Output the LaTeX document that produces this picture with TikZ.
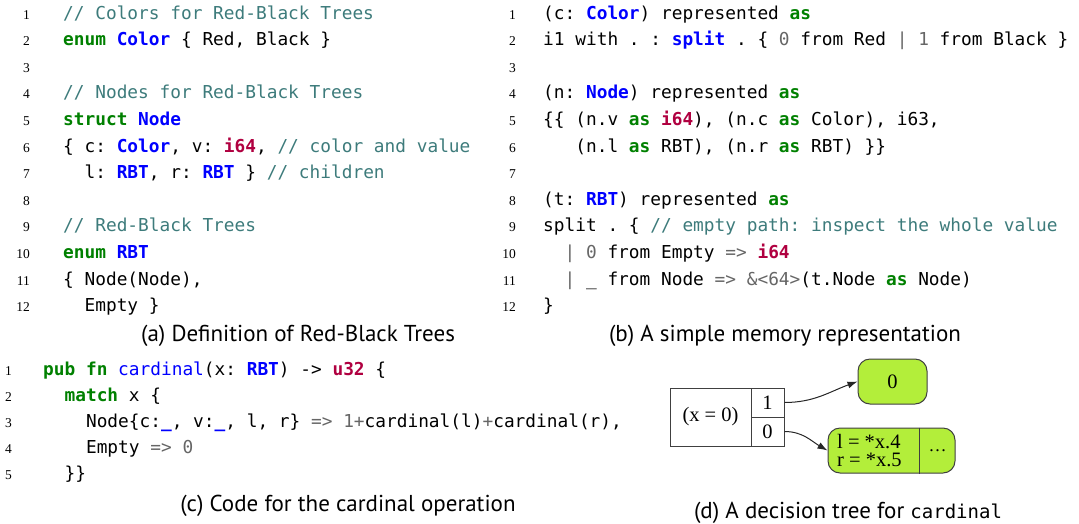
\documentclass[tikz,border=0pt]{standalone}
\usepackage{fontspec}
\setmainfont{Liberation Serif}
\setmonofont{DejaVu Sans Mono}
\newfontfamily\capfont{PT Sans}
\usepackage{tikz}
\usetikzlibrary{arrows.meta}
\definecolor{kwgreen}{HTML}{008000}
\definecolor{tyblue}{HTML}{0000FF}
\definecolor{primred}{HTML}{B00040}
\definecolor{cmteal}{HTML}{3D7B7B}
\definecolor{opgray}{HTML}{666666}
\definecolor{leafgreen}{RGB}{179,238,58}
\newcommand{\kw}[1]{\textcolor{kwgreen}{\bfseries #1}}
\newcommand{\ty}[1]{\textcolor{tyblue}{\bfseries #1}}
\newcommand{\prim}[1]{\textcolor{primred}{\bfseries #1}}
\newcommand{\cmt}[1]{\textcolor{cmteal}{#1}}
\newcommand{\op}[1]{\textcolor{opgray}{#1}}
\newcommand{\fname}[1]{\textcolor{tyblue}{#1}}
\newcommand{\ind}[1]{\hspace*{#1\fontcharwd\font`0}}
\tikzstyle{code}=[anchor=base west,inner sep=0pt,font=\ttfamily\fontsize{17.8}{20}\selectfont\frenchspacing]
\tikzstyle{lnum}=[anchor=base east,inner sep=0pt,font=\fontsize{13.5}{14}\selectfont]
\tikzstyle{caption}=[anchor=base,inner sep=0pt,font=\capfont\fontsize{23}{26}\selectfont]
\tikzstyle{cell}=[draw=black!75,line width=1pt,inner sep=0pt,font=\fontsize{20.5}{19}\selectfont]
\tikzstyle{leaf}=[cell,fill=leafgreen,rounded corners=12pt]
\tikzstyle{edge}=[-{Latex[length=10pt,width=7pt]},line width=1pt,black!85]

\begin{document}
\begin{tikzpicture}[x=1pt,y=-1pt]
\useasboundingbox (0,0) rectangle (1079,523);

% (a) definition
\foreach \i in {1,...,12}
    \node[lnum] (an\i) at (30,{19+26.6*(\i-1)}) {\i};
\node[code] (a1) at (63,19) {\cmt{// Colors for Red-Black Trees}};
\node[code] (a2) at (63,45.6) {\kw{enum} \ty{Color} \{ Red, Black \}};
\node[code] (a4) at (63,98.8) {\cmt{// Nodes for Red-Black Trees}};
\node[code] (a5) at (63,125.4) {\kw{struct} \ty{Node}};
\node[code] (a6) at (63,152) {\{ c: \ty{Color}, v: \prim{i64}, \cmt{// color and value}};
\node[code] (a7) at (63,178.6) {\ind{2}l: \ty{RBT}, r: \ty{RBT} \} \cmt{// children}};
\node[code] (a9) at (63,231.8) {\cmt{// Red-Black Trees}};
\node[code] (a10) at (63,258.4) {\kw{enum} \ty{RBT}};
\node[code] (a11) at (63,285) {\{ Node(Node),};
\node[code] (a12) at (63,311.6) {\ind{2}Empty \}};
\node[caption] (capa) at (298,341) {(a) Definition of Red-Black Trees};

% (b) representation
\foreach \i in {1,...,12}
    \node[lnum] (bn\i) at (516,{19+26.6*(\i-1)}) {\i};
\node[code] (b1) at (543,19) {(c: \ty{Color}) represented \kw{as}};
\node[code] (b2) at (543,45.6) {i1 with . : \ty{split} . \{ \op{0} from Red \op{|} \op{1} from Black \}};
\node[code] (b4) at (543,98.8) {(n: \ty{Node}) represented \kw{as}};
\node[code] (b5) at (543,125.4) {\{\{ (n.v \kw{as} \prim{i64}), (n.c \kw{as} Color), i63,};
\node[code] (b6) at (543,152) {\ind{3}(n.l \kw{as} RBT), (n.r \kw{as} RBT) \}\}};
\node[code] (b8) at (543,205.2) {(t: \ty{RBT}) represented \kw{as}};
\node[code] (b9) at (543,231.8) {split . \{ \cmt{// empty path: inspect the whole value}};
\node[code] (b10) at (543,258.4) {\ind{2}\op{|} \op{0} from Empty \op{=>} \prim{i64}};
\node[code] (b11) at (543,285) {\ind{2}\op{|} \_ from Node \op{=>} \op{\&<64>}(t.Node \kw{as} Node)};
\node[code] (b12) at (543,311.6) {\}};
\node[caption] (capb) at (785,341) {(b) A simple memory representation};

% (c) cardinal
\foreach \i in {1,...,5}
    \node[lnum] (cn\i) at (12,{375+26.2*(\i-1)}) {\i};
\node[code] (c1) at (43,375) {\kw{pub} \kw{fn} \fname{cardinal}(x: \ty{RBT}) -> \prim{u32} \{};
\node[code] (c2) at (43,401.2) {\ind{2}\kw{match} x \{};
\node[code] (c3) at (43,427.4) {\ind{4}Node\{c:\ty{\_}, v:\ty{\_}, l, r\} \op{=>} \op{1}\op{+}cardinal(l)\op{+}cardinal(r),};
\node[code] (c4) at (43,453.6) {\ind{4}Empty \op{=>} \op{0}};
\node[code] (c5) at (43,479.8) {\ind{2}\}\}};
\node[caption] (capc) at (348,511) {(c) Code for the cardinal operation};

% (d) decision tree
\node[cell,minimum width=81pt,minimum height=58pt] (test) at (710.5,417) {(x = 0)};
\node[cell,minimum width=33pt,minimum height=29pt] (br1) at (767.5,402.5) {1};
\node[cell,minimum width=33pt,minimum height=29pt] (br0) at (767.5,431.5) {0};
\node[leaf,minimum width=69pt,minimum height=45pt] (zero) at (892.5,381.5) {0};
\node[leaf,minimum width=127pt,minimum height=45pt] (node) at (891.5,450.5) {};
\node[anchor=west,inner sep=0pt,align=left,font=\fontsize{20.5}{18.5}\selectfont] (bind) at (837,450.5) {l = *x.4\\r = *x.5};
\node[inner sep=0pt,minimum width=35pt,font=\fontsize{18}{18.5}\selectfont] (dots) at (937.5,450.5) {\dots};
\draw[draw=black!75,line width=1pt] (dots.west |- node.north) -- (dots.west |- node.south);
\draw[edge] (br1.east) to[out=0,in=200] (zero.west);
\draw[edge] (br0.east) to[out=0,in=150] (node.west);
\node[caption] (capd) at (848,518) {(d) A decision tree for {\ttfamily\fontsize{19}{20}\selectfont cardinal}};
\end{tikzpicture}
\end{document}
